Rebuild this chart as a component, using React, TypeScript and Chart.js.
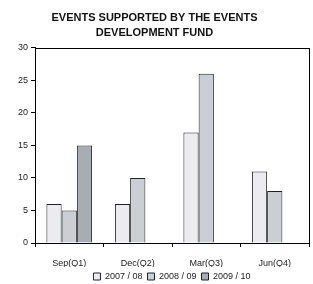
import React, { useEffect, useRef } from "react";
import { Chart, registerables } from "chart.js";

Chart.register(...registerables);

const categories = ["Sep(Q1)", "Dec(Q2)", "Mar(Q3)", "Jun(Q4)"];
const series0708 = [6, 6, 17, 11];
const series0809 = [5, 10, 26, 8];
const series0910 = [15, null, null, null];
const seriesLabels = ["2007 / 08", "2008 / 09", "2009 / 10"];
const titleLines = ["EVENTS SUPPORTED BY THE EVENTS", "DEVELOPMENT FUND"];

const FONT = "'Liberation Sans', Arial, sans-serif";

const boxPlugin = {
  id: "boxPlugin",
  afterDatasetsDraw(chart: any) {
    const { ctx, chartArea } = chart;
    ctx.save();
    ctx.strokeStyle = "#000";
    ctx.lineWidth = 1;
    ctx.strokeRect(
      Math.round(chartArea.left) + 0.5,
      Math.round(chartArea.top) + 0.5,
      Math.round(chartArea.right - chartArea.left),
      Math.round(chartArea.bottom - chartArea.top)
    );
    ctx.restore();
  },
};

export default function App() {
  const ref = useRef<HTMLCanvasElement>(null);
  useEffect(() => {
    if (!ref.current) return;
    const colors = ["#ECECF0", "#CBCED3", "#A8ADB3"];
    const data = [series0708, series0809, series0910];
    const chart = new Chart(ref.current, {
      type: "bar",
      data: {
        labels: categories,
        datasets: data.map((d, i) => ({
          label: seriesLabels[i],
          data: d,
          backgroundColor: colors[i],
          borderColor: "#222",
          borderWidth: 1,
          categoryPercentage: 0.667,
          barPercentage: 1.0,
        })),
      },
      options: {
        animation: false,
        responsive: true,
        maintainAspectRatio: false,
        layout: { padding: { left: 0, right: 4, top: 6, bottom: -7 } },
        plugins: {
          title: {
            display: true,
            text: titleLines,
            color: "#111",
            font: { family: FONT, size: 11, weight: "bold", lineHeight: 1.4 },
            padding: { top: 4, bottom: 7 },
          },
          legend: {
            position: "bottom",
            fullSize: false,
            labels: {
              color: "#222",
              font: { family: FONT, size: 9 },
              boxWidth: 7,
              boxHeight: 7,
              padding: 5,
            },
          },
          tooltip: { enabled: false },
        },
        scales: {
          x: {
            afterFit: (s: any) => {
              s.height = 24;
            },
            grid: {
              display: true,
              drawOnChartArea: false,
              tickLength: 4,
              color: "#000",
              offset: true,
            },
            border: { display: true, color: "#000" },
            ticks: { color: "#222", font: { family: FONT, size: 9 }, padding: 11 },
          },
          y: {
            min: 0,
            max: 30,
            afterFit: (s: any) => {
              s.width = 35;
            },
            grid: { display: true, drawOnChartArea: false, tickLength: 4, color: "#000" },
            border: { display: true, color: "#000" },
            ticks: { stepSize: 5, color: "#222", font: { family: FONT, size: 9 }, padding: 3 },
          },
        },
      },
      plugins: [boxPlugin],
    });
    return () => chart.destroy();
  }, []);
  return (
    <div style={{ position: "fixed", left: 0, top: 0, width: 313, height: 284, background: "#fff" }}>
      <canvas ref={ref} />
    </div>
  );
}
